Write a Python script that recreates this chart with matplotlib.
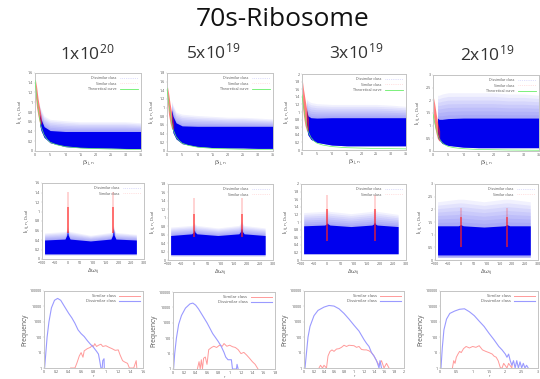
import numpy as np
import matplotlib
matplotlib.use("Agg")
import matplotlib.pyplot as plt

plt.rcParams['font.family'] = ['Open Sans', 'DejaVu Sans']
plt.rcParams['mathtext.default'] = 'regular'

W, H = 540, 379
BLUE = '#0000ee'
RED = '#ff2020'
GREEN = '#66ee66'
GRAY = '#c4c4c4'
TXT = '#555555'

main_title = "70s-Ribosome"
doses = ["1x10$^{20}$", "5x10$^{19}$", "3x10$^{19}$", "2x10$^{19}$"]

# ---------- row 1: value against beta ----------
beta = [1.5, 2, 3, 5, 10, 15, 20, 25, 30, 35]
b_low = [
    [.55, .42, .28, .17, .09, .07, .06, .06, .05, .05],
    [.60, .42, .28, .17, .10, .08, .07, .07, .06, .06],
    [.60, .40, .28, .20, .13, .11, .11, .11, .11, .11],
    [.55, .45, .30, .22, .15, .13, .13, .13, .13, .13],
]
b_core = [
    [.75, .65, .50, .42, .40, .40, .40, .40, .40, .40],
    [.95, .80, .65, .58, .57, .57, .57, .57, .57, .57],
    [1.05, .90, .85, .84, .85, .85, .85, .85, .85, .85],
    [1.30, 1.25, 1.25, 1.28, 1.30, 1.30, 1.30, 1.30, 1.30, 1.30],
]
b_out = [
    [.95, .85, .72, .65, .62, .60, .60, .60, .60, .58],
    [1.15, 1.05, .90, .85, .82, .80, .78, .78, .76, .74],
    [1.35, 1.30, 1.25, 1.22, 1.20, 1.20, 1.20, 1.20, 1.18, 1.15],
    [2.20, 2.20, 2.25, 2.30, 2.30, 2.30, 2.30, 2.25, 2.25, 2.20],
]
red_x = [.2, .5, 1.0, 1.5, 2.0, 2.2]
red_low = [
    [1.10, .90, .72, .58, .55, .55],
    [1.10, .85, .65, .52, .50, .50],
    [1.15, .90, .65, .52, .50, .50],
    [1.35, 1.00, .70, .48, .40, .40],
]
red_up = [
    [1.45, 1.33, 1.08, .90, .72, .62],
    [1.48, 1.35, 1.10, .90, .72, .62],
    [1.80, 1.60, 1.35, 1.10, .90, .80],
    [2.10, 1.90, 1.50, 1.15, .90, .80],
]
curve_x = [0, .5, 1, 1.5, 2, 3, 4, 5, 7, 10, 15, 20, 25, 30, 35]
curve_y = [1.45, 1.15, .90, .68, .50, .33, .24, .18, .13, .09, .06, .05, .04, .035, .03]

# ---------- row 2: value against delta omega ----------
omega = [-90, -10, -3, 0, 3, 10, 90, 170, 177, 180, 183, 190, 270]
w_low = [.09, .10, .15, .11]
w_low_core = [.11, .13, .17, .20]
w_core = [
    [.40, .42, .50, .60, .50, .42, .38, .42, .50, .65, .50, .42, .40],
    [.58, .62, .66, .72, .66, .62, .58, .62, .68, .76, .68, .62, .58],
    [.90, .92, .95, .98, .95, .92, .88, .92, .95, 1.00, .95, .92, .88],
    [1.35, 1.35, 1.38, 1.40, 1.38, 1.35, 1.30, 1.35, 1.38, 1.40, 1.38, 1.35, 1.35],
]
w_out = [
    [.55, .58, .60, .70, .60, .58, .50, .56, .62, .72, .62, .56, .52],
    [.78, .82, .85, .90, .85, .82, .76, .82, .88, .95, .88, .82, .76],
    [1.25, 1.28, 1.30, 1.35, 1.30, 1.28, 1.22, 1.28, 1.30, 1.35, 1.30, 1.28, 1.20],
    [2.30, 2.40, 2.40, 2.40, 2.40, 2.40, 2.30, 2.40, 2.40, 2.40, 2.40, 2.40, 2.30],
]
peak_pos = [0, 180]
peak_low = [.55, .55, .50, .50]
peak_mid = [1.10, 1.10, 1.35, 1.70]
peak_top = [1.42, 1.48, 1.70, 2.05]

# ---------- row 3: histograms ----------
dis_x = [
    [.01, .03, .05, .08, .12, .17, .22, .27, .33, .40, .45, .50, .55, .60, .65, .70, .75, .80, .85, .88, .90, .92, .94, .95, .97, .975],
    [.01, .03, .06, .10, .15, .22, .30, .35, .40, .45, .50, .55, .60, .65, .70, .75, .80, .85, .90, .93, .97, 1.03, 1.05, 1.06, 1.12, 1.13, 1.15],
    [.02, .05, .08, .12, .20, .28, .40, .50, .60, .70, .80, .90, 1.0, 1.1, 1.2, 1.25, 1.3, 1.35, 1.4, 1.45, 1.47, 1.5, 1.52, 1.55],
    [.03, .07, .12, .20, .30, .45, .60, .75, .90, 1.05, 1.2, 1.35, 1.5, 1.65, 1.8, 1.9, 2.0, 2.05, 2.1, 2.15, 2.2, 2.25, 2.3, 2.35, 2.4, 2.45, 2.5, 2.55, 2.6, 2.65, 2.7],
]
dis_y = [
    [1, 10, 100, 1000, 8000, 25000, 33000, 25000, 10000, 3500, 1800, 800, 300, 170, 110, 60, 35, 22, 12, 8, 3, 1, 1, 3, 4, 1],
    [1, 10, 100, 800, 3000, 9000, 17000, 19000, 14000, 8000, 4000, 2000, 1000, 450, 200, 110, 60, 30, 12, 6, 4, 4, 1, 1, 1, 2, 1],
    [1, 10, 100, 500, 2500, 5500, 9000, 11500, 10500, 7000, 3500, 1500, 600, 250, 70, 40, 25, 10, 6, 3, 2, 1, 3, 1],
    [1, 20, 300, 1500, 3500, 5000, 6500, 7000, 4500, 2500, 1100, 500, 180, 70, 25, 15, 8, 5, 8, 3, 1.5, 3, 1, 3, 1, 2.5, 1, 2, 1, 1.5, 1],
]
sim_x = [
    [.43, .46, .50, .53, .57, .60, .63, .65, .70, .75, .78, .80, .82, .85, .88, .92, .95, 1.0, 1.05, 1.1, 1.15, 1.2, 1.23, 1.27, 1.3, 1.35, 1.38, 1.45, 1.49, 1.5],
    [.43, .46, .48, .50, .52, .54, .57, .60, .63, .68, .72, .77, .82, .87, .90, .95, 1.0, 1.05, 1.1, 1.15, 1.2, 1.25, 1.3, 1.35, 1.4, 1.45, 1.5],
    [.30, .33, .37, .40, .45, .48, .52, .56, .60, .65, .70, .75, .80, .85, .90, 1.0, 1.05, 1.1, 1.15, 1.2, 1.25, 1.3, 1.35, 1.4, 1.45, 1.5, 1.55, 1.6, 1.65, 1.7],
    [.38, .42, .46, .50, .55, .60, .65, .72, .80, .90, 1.0, 1.1, 1.2, 1.3, 1.4, 1.5, 1.6, 1.65, 1.72, 1.78, 1.85, 1.9, 1.95, 2.05, 2.1, 2.2, 2.21],
]
sim_y = [
    [1, 1, 1, 2, 6, 10, 5, 13, 18, 22, 30, 25, 38, 25, 30, 35, 25, 28, 22, 18, 14, 15, 7, 3, 2.5, 2, 1, 1, 3, 1],
    [1, 3, 1, 4, 1, 5, 6, 2, 18, 25, 30, 25, 35, 30, 45, 30, 35, 28, 25, 18, 10, 12, 8, 5, 3, 2, 1],
    [1, 1.5, 1, 1.5, 1, 6, 12, 15, 12, 17, 18, 22, 30, 25, 30, 28, 22, 25, 16, 15, 15, 13, 10, 6, 3, 1.5, 3, 1, 2, 1],
    [1, 3, 2, 5, 8, 12, 10, 18, 25, 20, 25, 22, 28, 15, 12, 10, 8, 6, 5, 3, 1, 1, 2, 1, 2, 1, 2],
]

y_max = [1.6, 1.8, 2.0, 3.0]
y_step = [.2, .2, .2, .5]
hist_xmax = [1.6, 1.8, 2.0, 3.0]
hist_xstep = [.2, .2, .2, .5]

boxes1 = [(35, 73, 141, 151), (167, 73, 273, 151), (302, 74, 406, 150), (433, 75, 539, 151)]
boxes2 = [(42, 183, 144, 259), (168, 184, 273, 260), (301, 184, 406, 260), (435, 184, 538, 260)]
boxes3 = [(44, 291, 143, 368), (173, 292, 275, 369), (304, 291, 404, 368), (440, 291, 538, 368)]
dose_pos = [(87, 53), (213, 52), (356, 52), (487, 54)]
YL = r"l$_{i,ij,n,Dual}$"
HALO_STEPS = 7

fig = plt.figure(figsize=(W / 100, H / 100), dpi=100)


def make_ax(box):
    l, t, r, b = box
    ax = fig.add_axes([l / W, 1 - b / H, (r - l) / W, (b - t) / H])
    for s in ax.spines.values():
        s.set_color(GRAY)
        s.set_linewidth(.7)
    ax.tick_params(labelsize=2.6, length=.8, width=.3, pad=.8, color=GRAY, labelcolor=TXT)
    return ax


def fmt(v):
    return f"{v:g}"


def set_y(ax, i):
    ticks = np.arange(0, y_max[i] + .01, y_step[i])
    ax.set_ylim(0, y_max[i])
    ax.set_yticks(ticks)
    ax.set_yticklabels([fmt(round(t, 1)) for t in ticks])


def cloud(ax, x, low_out, low_core, core, out):
    # sparse halo fades from the dense core out to the envelope
    core = np.asarray(core)
    out = np.asarray(out)
    for k in range(1, HALO_STEPS + 1):
        ax.fill_between(x, low_out, core + (out - core) * k / HALO_STEPS,
                        color=BLUE, alpha=.055, lw=0, zorder=1)
    ax.fill_between(x, low_core, core, color=BLUE, lw=0, zorder=2)


def legend(ax, with_curve):
    hs = [plt.Line2D([], [], color=BLUE, alpha=.25, lw=.5, ls=':'),
          plt.Line2D([], [], color=RED, alpha=.25, lw=.5, ls=':')]
    ls = ["Dissimilar class", "Similar class"]
    if with_curve:
        hs.append(plt.Line2D([], [], color=GREEN, lw=.6))
        ls.append("Theoretical curve")
    ax.legend(hs, ls, loc='upper right', frameon=False, fontsize=2.6, labelcolor=TXT,
              handlelength=5, labelspacing=.35, borderaxespad=.5, handletextpad=.8, markerfirst=False)


for i in range(4):
    fig.text(dose_pos[i][0] / W, 1 - dose_pos[i][1] / H, doses[i], fontsize=12.5,
             color='#333333', ha='center', va='center')

    # row 1
    ax = make_ax(boxes1[i])
    cloud(ax, beta, b_low[i], b_low[i], b_core[i], b_out[i])
    ax.fill_between(red_x, red_low[i], red_up[i], color=RED, alpha=.6, lw=0, zorder=3)
    ax.plot(curve_x, curve_y, color=GREEN, lw=.5, zorder=4)
    ax.set_xlim(0, 35)
    ax.set_xticks(range(0, 36, 5))
    set_y(ax, i)
    ax.set_xlabel(r"$\beta_{ij,n}$", fontsize=4.5, color=TXT, labelpad=1)
    ax.set_ylabel(YL, fontsize=4.5, color=TXT, labelpad=1)
    legend(ax, True)

    # row 2
    ax = make_ax(boxes2[i])
    cloud(ax, omega, w_low[i], w_low_core[i], w_core[i], w_out[i])
    ax.vlines(peak_pos, peak_low[i], peak_mid[i], color=RED, lw=1.3, alpha=.7, zorder=3)
    ax.vlines(peak_pos, peak_mid[i], peak_top[i], color=RED, lw=1.1, alpha=.25, zorder=3)
    ax.set_xlim(-100, 300)
    ax.set_xticks(range(-100, 301, 50))
    set_y(ax, i)
    ax.set_xlabel(r"$\Delta\omega_{ij}$", fontsize=4.5, color=TXT, labelpad=1)
    ax.set_ylabel(YL, fontsize=4.5, color=TXT, labelpad=1)
    legend(ax, False)

    # row 3
    ax = make_ax(boxes3[i])
    ax.plot(sim_x[i], sim_y[i], color='#ff9a9a', lw=.7, label="Similar class")
    ax.plot(dis_x[i], dis_y[i], color='#9a9aff', lw=.8, label="Dissimilar class")
    ax.set_yscale('log')
    ax.set_ylim(1, 100000)
    ax.set_yticks([1, 10, 100, 1000, 10000, 100000])
    ax.set_yticklabels(['1', '10', '100', '1000', '10000', '100000'])
    ax.minorticks_off()
    ax.set_xlim(0, hist_xmax[i])
    ticks = np.arange(0, hist_xmax[i] + .01, hist_xstep[i])
    ax.set_xticks(ticks)
    ax.set_xticklabels([fmt(round(t, 1)) for t in ticks])
    ax.set_xlabel("r", fontsize=2.6, color=TXT, labelpad=0)
    ax.set_ylabel("Frequency", fontsize=4.8, color=TXT, labelpad=1)
    ax.legend(loc='upper right', frameon=False, fontsize=3, labelcolor=TXT, handlelength=5,
              labelspacing=.25, borderaxespad=.4, handletextpad=.8, markerfirst=False)

fig.text(283 / W, 1 - 19 / H, main_title, fontsize=19, color='#111111', ha='center', va='center')
fig.savefig("out.png", dpi=100)
